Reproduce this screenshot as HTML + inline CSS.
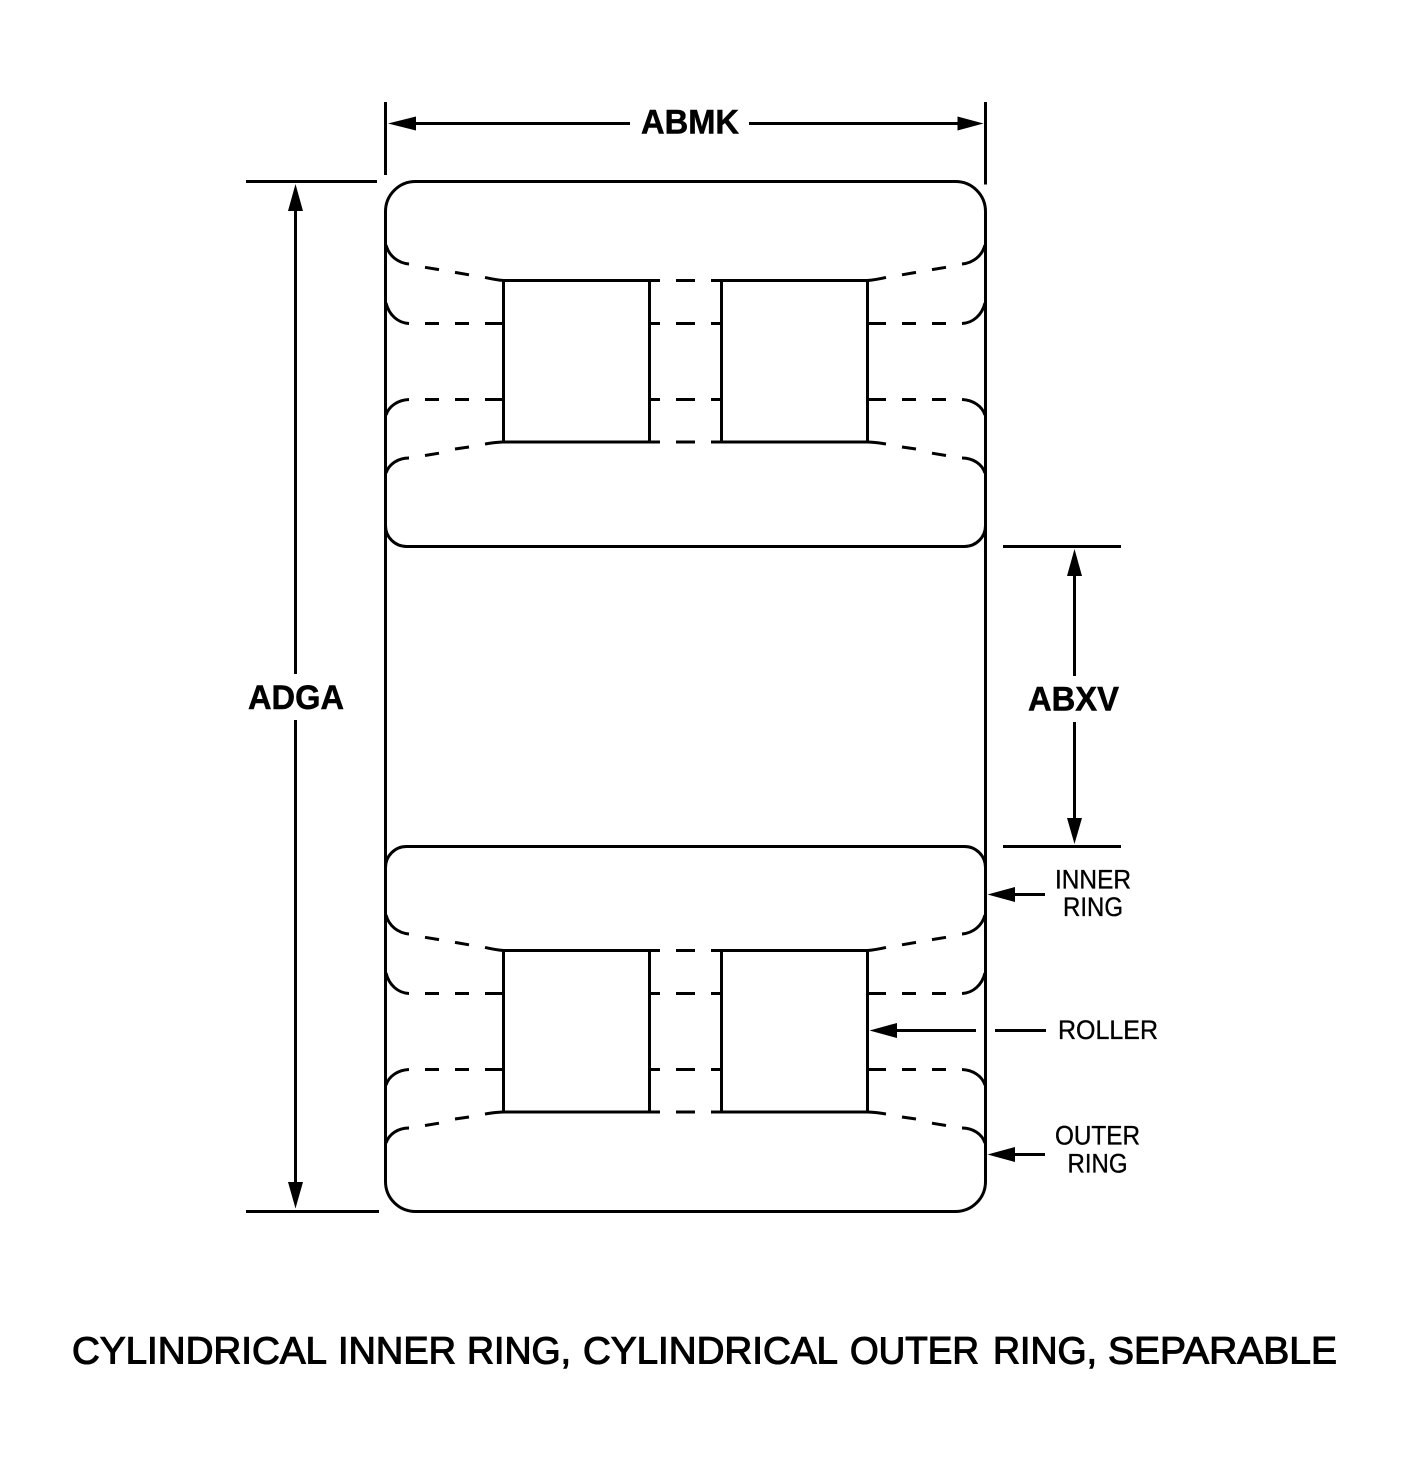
<!DOCTYPE html>
<html>
<head>
<meta charset="utf-8">
<style>
html,body{margin:0;padding:0;background:#fff;width:1420px;height:1470px;overflow:hidden}
svg{display:block}
text{font-family:"Liberation Sans",sans-serif;fill:#000}
.b{font-weight:bold;font-size:34px;stroke:#000;stroke-width:.5}
.s{font-size:26.5px;stroke:#000;stroke-width:.35}
.t{font-size:38px;stroke:#000;stroke-width:1.1}
</style>
</head>
<body>
<svg width="1420" height="1470" viewBox="0 0 1420 1470" xmlns="http://www.w3.org/2000/svg">
<rect width="1420" height="1470" fill="#fff"/>
<defs>
<g id="half">
<path d="M386 245C389 256 398 263 409 264M425 267.3L439 269.6M455 272.4L469 274.8M485 277.4C492 279 497 280 503.5 280.5"/>
<path d="M386 303C389 315 398 323 409 323.5M425 323.5H439M455 323.5H469M485 323.5H503.5"/>
<path d="M386 415C389 406 398 400 409 399.5M425 399.5H439M455 399.5H469M485 399.5H503.5"/>
<path d="M386 473C389 464 398 458 409 458M425 455.5L439 453.2M455 449L469 447M485 444C492 443 497 442 503.5 442"/>
<path d="M503.5 280.5H649.5V442H503.5Z"/>
<path d="M649.5 280.5H660M676 280.5H692M649.5 323.5H660M676 323.5H692M649.5 399.5H660M676 399.5H692M649.5 442H660M676 442H692"/>
</g>
<g id="unit">
<use href="#half"/>
<use href="#half" transform="translate(1371 0) scale(-1 1)"/>
</g>
</defs>
<g fill="none" stroke="#000" stroke-width="3">
<path d="M385.5 102V175M985.5 102V184.5"/>
<path d="M385.5 211.5A30 30 0 0 1 415.5 181.5H955.5A30 30 0 0 1 985.5 211.5V1181.5A30 30 0 0 1 955.5 1211.5H415.5A30 30 0 0 1 385.5 1181.5Z"/>
<path d="M385.5 525.5A21 21 0 0 0 406.5 546.5H964.5A21 21 0 0 0 985.5 525.5"/>
<path d="M385.5 867.5A21 21 0 0 1 406.5 846.5H964.5A21 21 0 0 1 985.5 867.5"/>
<use href="#unit"/>
<use href="#unit" transform="translate(0 670)"/>
<path d="M246 181.5H377M246 1211.5H379M1003 546.5H1121M1003 846.5H1121"/>
<path d="M416 123.5H630M749 123.5H958"/>
<path d="M295.5 210V674M295.5 720V1182"/>
<path d="M1074.5 575V676M1074.5 722V819"/>
<path d="M1014 894.5H1045M896 1030.5H976M995 1030.5H1046M1014 1154.5H1045"/>
</g>
<g fill="#000">
<path d="M388 123.5L416 116.5V130.5Z"/>
<path d="M983.5 123.5L957.5 116.5V130.5Z"/>
<path d="M295.5 184L288 211H303Z"/>
<path d="M295.5 1208.5L288 1182H303Z"/>
<path d="M1074.5 549L1067 576H1082Z"/>
<path d="M1074.5 844L1067 818H1082Z"/>
<path d="M987.5 894.5L1015 887V902Z"/>
<path d="M869.5 1030.5L897 1023V1038Z"/>
<path d="M987.5 1154.5L1015 1147V1162Z"/>
</g>
<text class="b" x="641" y="133.5" textLength="98" lengthAdjust="spacingAndGlyphs">ABMK</text>
<text class="b" x="248" y="709" textLength="96" lengthAdjust="spacingAndGlyphs">ADGA</text>
<text class="b" x="1028" y="710.5" textLength="91" lengthAdjust="spacingAndGlyphs">ABXV</text>
<text class="s" x="1055" y="888.5" textLength="76" lengthAdjust="spacingAndGlyphs">INNER</text>
<text class="s" x="1063" y="916" textLength="60" lengthAdjust="spacingAndGlyphs">RING</text>
<text class="s" x="1058" y="1039" textLength="100" lengthAdjust="spacingAndGlyphs">ROLLER</text>
<text class="s" x="1055" y="1144.5" textLength="85" lengthAdjust="spacingAndGlyphs">OUTER</text>
<text class="s" x="1067.5" y="1172.5" textLength="60" lengthAdjust="spacingAndGlyphs">RING</text>
<g class="t">
<text class="t" x="72" y="1363.5" textLength="255" lengthAdjust="spacingAndGlyphs">CYLINDRICAL</text>
<text class="t" x="338" y="1363.5" textLength="118" lengthAdjust="spacingAndGlyphs">INNER</text>
<text class="t" x="467" y="1363.5" textLength="104" lengthAdjust="spacingAndGlyphs">RING,</text>
<text class="t" x="583" y="1363.5" textLength="255" lengthAdjust="spacingAndGlyphs">CYLINDRICAL</text>
<text class="t" x="850" y="1363.5" textLength="129" lengthAdjust="spacingAndGlyphs">OUTER</text>
<text class="t" x="993" y="1363.5" textLength="104" lengthAdjust="spacingAndGlyphs">RING,</text>
<text class="t" x="1108" y="1363.5" textLength="229" lengthAdjust="spacingAndGlyphs">SEPARABLE</text>
</g>
</svg>
</body>
</html>
